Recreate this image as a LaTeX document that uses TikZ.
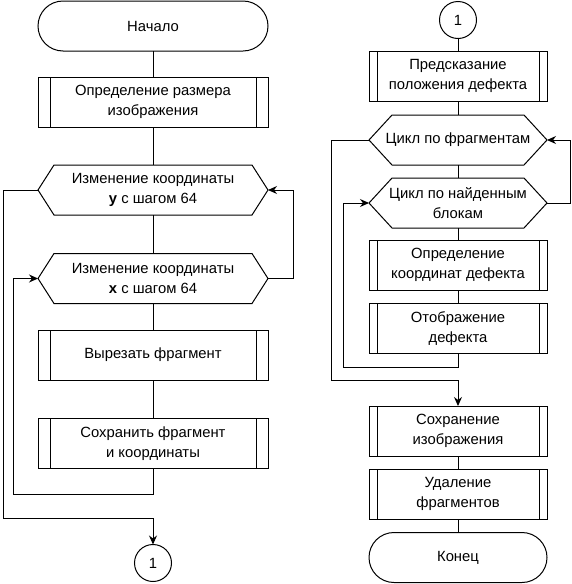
\documentclass[tikz,border=0pt]{standalone}
\usepackage{fontspec}
\setmainfont{Liberation Sans}
\usetikzlibrary{arrows.meta, calc}

% loop block: hexagon drawn round a named node
\newcommand{\hexframe}[2]{%
  \draw[line] (#1.west) -- ([xshift=#2]#1.north west) -- ([xshift=-#2]#1.north east)
    -- (#1.east) -- ([xshift=-#2]#1.south east) -- ([xshift=#2]#1.south west) -- cycle;}

\begin{document}
\begin{tikzpicture}[
    x=1pt, y=-1pt,
    font=\fontsize{14.8}{19.5}\selectfont,
    line/.style={draw=black, line width=1pt},
    arrow/.style={line, -{Stealth[length=9pt, width=8pt]}},
    wideL/.style={minimum width=230pt},
    wideR/.style={minimum width=178pt},
    term/.style={rectangle, draw, line width=1pt, rounded corners=25pt,
                 minimum height=50pt, align=center, outer sep=0pt},
    subproc/.style={rectangle, draw, line width=1pt, minimum height=50pt,
                 align=center, inner sep=0pt, outer sep=0pt,
                 path picture={\draw[line width=1pt]
                   ([xshift=#1]path picture bounding box.north west) --
                   ([xshift=#1]path picture bounding box.south west)
                   ([xshift=-#1]path picture bounding box.north east) --
                   ([xshift=-#1]path picture bounding box.south east);}},
    loopbox/.style={rectangle, minimum height=50pt, align=center,
                 inner sep=0pt, outer sep=0pt},
    connector/.style={circle, draw, line width=1pt, minimum size=37pt,
                 inner sep=0pt, outer sep=0pt}
]
\useasboundingbox (0,0) rectangle (572,584);

% left column
\node[term, wideL]       (start)  at (153,26)    {Начало};
\node[subproc=12, wideL] (size)   at (153,102)   {Определение размера\\изображения};
\node[loopbox, wideL]    (hexy)   at (153,190)   {Изменение координаты\\\textbf{y} с шагом 64};
\node[loopbox, wideL]    (hexx)   at (153,278.5) {Изменение координаты\\\textbf{x} с шагом 64};
\node[subproc=12, wideL] (cut)    at (153,355)   {Вырезать фрагмент};
\node[subproc=12, wideL] (save)   at (153,443.5) {Сохранить фрагмент\\и координаты};
\node[connector]         (con1)   at (153,563)   {1};
\hexframe{hexy}{16pt}
\hexframe{hexx}{16pt}

\coordinate (o1) at (3,518);
\coordinate (i1) at (13,494);
\coordinate (r1) at (293,278.5);

\draw[line] (start) -- (size);
\draw[line] (size) -- (hexy);
\draw[line] (hexy) -- (hexx);
\draw[line] (hexx) -- (cut);
\draw[line] (cut) -- (save);
\draw[arrow] (save.south) |- (i1) |- (hexx.west);
\draw[arrow] (hexx.east) -- (r1) |- (hexy.east);
\draw[arrow] (hexy.west) -| (o1) -| (con1.north);

% right column
\node[connector]         (con2)   at (458,20)    {1};
\node[subproc=8, wideR]  (pred)   at (458,76)    {Предсказание\\положения дефекта};
\node[loopbox, wideR]    (hexfr)  at (458,140)   {Цикл по фрагментам};
\node[loopbox, wideR]    (hexbl)  at (458,203)   {Цикл по найденным\\блокам};
\node[subproc=8, wideR]  (coord)  at (458,265)   {Определение\\координат дефекта};
\node[subproc=8, wideR]  (show)   at (458,328.5) {Отображение\\дефекта};
\node[subproc=8, wideR]  (saveimg) at (458,431)  {Сохранение\\изображения};
\node[subproc=8, wideR]  (del)    at (458,494)   {Удаление\\фрагментов};
\node[term, wideR]       (finish) at (458,557.5) {Конец};
\hexframe{hexfr}{23pt}
\hexframe{hexbl}{23pt}

\coordinate (o2) at (331,380);
\coordinate (i2) at (343,367);
\coordinate (r2) at (570,203);

\draw[line] (con2) -- (pred);
\draw[line] (pred) -- (hexfr);
\draw[line] (hexfr) -- (hexbl);
\draw[line] (hexbl) -- (coord);
\draw[line] (coord) -- (show);
\draw[arrow] (show.south) |- (i2) |- (hexbl.west);
\draw[arrow] (hexbl.east) -- (r2) |- (hexfr.east);
\draw[arrow] (hexfr.west) -| (o2) -| (saveimg.north);
\draw[line] (saveimg) -- (del);
\draw[line] (del) -- (finish);
\end{tikzpicture}
\end{document}
